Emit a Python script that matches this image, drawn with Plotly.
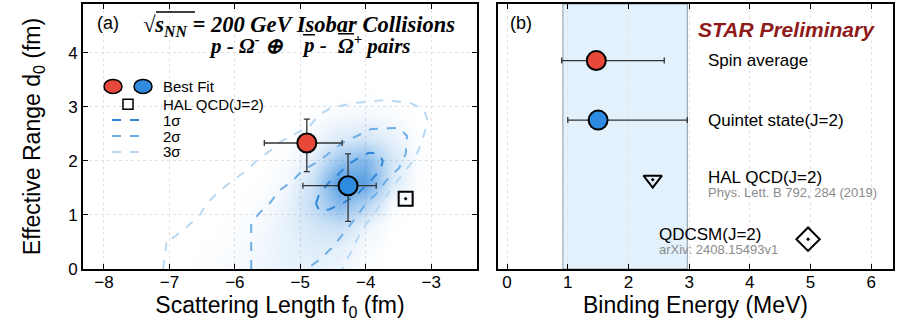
import plotly.graph_objects as go

# ---------------- panel (a): f0 / d0 plane ----------------
fit_f0 = [-4.90, -4.27]
fit_d0 = [2.33, 1.54]
fit_f0_lo = [0.65, 0.69]
fit_f0_hi = [0.54, 0.43]
fit_d0_lo = [0.53, 0.66]
fit_d0_hi = [0.44, 0.59]
fit_colors = ["#e8483a", "#2f8be0"]

hal_f0 = [-3.39]
hal_d0 = [1.30]

# confidence contours
c1_f0 = [-4.76, -4.71, -4.56, -4.41, -4.26, -4.10, -3.95, -3.80, -3.74, -3.77,
         -3.88, -4.00, -4.15, -4.36, -4.56, -4.71, -4.76]
c1_d0 = [1.21, 1.39, 1.60, 1.76, 1.94, 2.06, 2.15, 2.13, 2.00, 1.85,
         1.69, 1.54, 1.36, 1.21, 1.10, 1.08, 1.21]
c2_f0 = [-5.75, -5.75, -5.63, -5.47, -5.32, -5.12, -4.97, -4.71, -4.36, -3.91,
         -3.49, -3.37, -3.39, -3.49, -3.69, -3.84, -4.00, -4.15, -4.30, -4.51,
         -4.71, -4.90]
c2_d0 = [0.00, 0.84, 1.03, 1.21, 1.45, 1.63, 1.82, 2.00, 2.33, 2.59,
         2.61, 2.46, 2.13, 1.87, 1.63, 1.39, 1.21, 0.95, 0.72, 0.40,
         0.17, 0.00]
c3_f0 = [-7.10, -7.07, -7.04, -6.95, -6.74, -6.54, -6.43, -6.23, -6.04, -5.82,
         -5.67, -5.47, -5.28, -5.06, -4.86, -4.71, -4.51, -4.10, -3.72, -3.34,
         -3.11, -3.05, -3.14, -3.24, -3.39, -3.60, -3.84, -4.06, -4.21, -4.36]
c3_d0 = [0.00, 0.20, 0.57, 0.57, 0.77, 0.99, 1.21, 1.45, 1.63, 1.82,
         2.00, 2.18, 2.37, 2.51, 2.64, 2.86, 2.99, 3.08, 3.12, 3.08,
         2.95, 2.73, 2.37, 2.06, 1.82, 1.50, 1.08, 0.72, 0.35, 0.00]

# likelihood density
dens_f0 = [-6.8, -6.4, -6.0, -5.6, -5.2, -4.8, -4.4, -4.0, -3.6, -3.2]
dens_d0 = [0.0, 0.4, 0.8, 1.2, 1.6, 2.0, 2.4, 2.8, 3.2]
dens_z = [
    [0.00, 0.02, 0.04, 0.08, 0.11, 0.12, 0.08, 0.02, 0.00, 0.00],
    [0.00, 0.01, 0.03, 0.07, 0.12, 0.16, 0.14, 0.04, 0.00, 0.00],
    [0.00, 0.00, 0.02, 0.05, 0.12, 0.22, 0.28, 0.10, 0.01, 0.00],
    [0.00, 0.00, 0.00, 0.03, 0.10, 0.30, 0.60, 0.38, 0.04, 0.00],
    [0.00, 0.00, 0.00, 0.01, 0.06, 0.26, 0.85, 0.80, 0.18, 0.01],
    [0.00, 0.00, 0.00, 0.00, 0.03, 0.15, 0.50, 0.62, 0.22, 0.02],
    [0.00, 0.00, 0.00, 0.00, 0.01, 0.06, 0.18, 0.22, 0.12, 0.01],
    [0.00, 0.00, 0.00, 0.00, 0.00, 0.02, 0.05, 0.07, 0.04, 0.00],
    [0.00, 0.00, 0.00, 0.00, 0.00, 0.00, 0.00, 0.01, 0.00, 0.00],
]

# ---------------- panel (b): binding energy ----------------
be_rows = [3.5, 2.5, 1.5, 0.5]
be_labels = ["Spin average", "Quintet state(J=2)", "HAL QCD(J=2)", "QDCSM(J=2)"]
be_refs = ["Phys. Lett. B 792, 284 (2019)", "arXiv: 2408.15493v1"]
be_star = [1.47, 1.50]
be_star_lo = [0.57, 0.50]
be_star_hi = [1.12, 1.47]
be_hal = [2.40]
be_qdcsm = [4.96]
band = [0.92, 2.97]

SANS = "Liberation Sans, Arial, sans-serif"
SERIF = "Liberation Serif, Times New Roman, serif"

# plot area in pixels: x 83..893, y 2..269
L, R, T, B = 83, 17, 2, 56
W, H = 910, 325
PW, PH = W - L - R, H - T - B


def pxx(x):
    return (x - L) / PW


def pxy(y):
    return (H - B - y) / PH


fig = go.Figure()

fig.add_trace(go.Heatmap(
    x=dens_f0, y=dens_d0, z=dens_z, zmin=0, zmax=1, zsmooth="best",
    colorscale=[[0, "rgba(50,138,220,0)"], [1, "rgba(50,138,220,1)"]],
    showscale=False, hoverinfo="skip", xaxis="x", yaxis="y"))

for fx, fy, col in [(c3_f0, c3_d0, "#b9d8f3"), (c2_f0, c2_d0, "#6eaee6"),
                    (c1_f0, c1_d0, "#2f86d6")]:
    fig.add_trace(go.Scatter(
        x=fx, y=fy, mode="lines", line=dict(color=col, width=2, dash="dash"),
        showlegend=False, hoverinfo="skip", xaxis="x", yaxis="y"))

fig.add_trace(go.Scatter(
    x=hal_f0, y=hal_d0, mode="markers",
    marker=dict(symbol="square-open-dot", size=14, color="black",
                line=dict(color="black", width=2)),
    showlegend=False, xaxis="x", yaxis="y"))

fig.add_trace(go.Scatter(
    x=fit_f0, y=fit_d0, mode="markers",
    error_x=dict(type="data", symmetric=False, array=fit_f0_hi,
                 arrayminus=fit_f0_lo, color="#333", thickness=1.3, width=3),
    error_y=dict(type="data", symmetric=False, array=fit_d0_hi,
                 arrayminus=fit_d0_lo, color="#333", thickness=1.3, width=3),
    marker=dict(size=19, color=fit_colors, line=dict(color="black", width=2)),
    showlegend=False, xaxis="x", yaxis="y"))

# panel (b)
fig.add_trace(go.Scatter(
    x=be_star, y=be_rows[:2], mode="markers",
    error_x=dict(type="data", symmetric=False, array=be_star_hi,
                 arrayminus=be_star_lo, color="#333", thickness=1.3, width=3),
    marker=dict(size=19, color=fit_colors, line=dict(color="black", width=2)),
    showlegend=False, xaxis="x2", yaxis="y2"))
fig.add_trace(go.Scatter(
    x=be_hal, y=[be_rows[2]], mode="markers",
    marker=dict(symbol="triangle-down-open-dot", size=16, color="black",
                line=dict(color="black", width=2)),
    showlegend=False, xaxis="x2", yaxis="y2"))
fig.add_trace(go.Scatter(
    x=be_qdcsm, y=[be_rows[3]], mode="markers",
    marker=dict(symbol="diamond-open-dot", size=18, color="black",
                line=dict(color="black", width=2)),
    showlegend=False, xaxis="x2", yaxis="y2"))

shapes = [
    dict(type="rect", xref="x2", yref="y2 domain", x0=band[0], x1=band[1],
         y0=0, y1=1, fillcolor="#e3f1fc", line=dict(color="#8a9aa8", width=1),
         layer="below"),
]

# legend of panel (a)
for cx, col in [(113, fit_colors[0]), (143, fit_colors[1])]:
    shapes.append(dict(type="circle", xref="paper", yref="paper",
                       xsizemode="pixel", ysizemode="pixel",
                       xanchor=pxx(cx), yanchor=pxy(85),
                       x0=-9, x1=9, y0=-7, y1=7, fillcolor=col,
                       line=dict(color="black", width=1.5)))
shapes.append(dict(type="rect", xref="paper", yref="paper",
                   xsizemode="pixel", ysizemode="pixel",
                   xanchor=pxx(128), yanchor=pxy(103),
                   x0=-5, x1=5, y0=-5, y1=5, fillcolor="white",
                   line=dict(color="black", width=1.5)))
for yy, col in [(119, "#2f86d6"), (135, "#6eaee6"), (151, "#b9d8f3")]:
    shapes.append(dict(type="line", xref="paper", yref="paper",
                       x0=pxx(112), x1=pxx(146), y0=pxy(yy), y1=pxy(yy),
                       line=dict(color=col, width=2, dash="dash")))

# bars over the radical and the antiparticle symbols in the header
for x0, x1, yy in [(156, 195, 10), (303, 315, 33), (338, 354, 32)]:
    shapes.append(dict(type="line", xref="paper", yref="paper",
                       x0=pxx(x0), x1=pxx(x1), y0=pxy(yy), y1=pxy(yy),
                       line=dict(color="black", width=1.5)))

ann = []


def text(x, y, s, size, color="black", font=SANS, xanchor="left", xref="paper", yref="paper"):
    ann.append(dict(x=x, y=y, xref=xref, yref=yref, text=s, showarrow=False,
                    xanchor=xanchor, yanchor="middle",
                    font=dict(family=font, size=size, color=color)))


legend_items = [(85, "Best Fit"), (103, "HAL QCD(J=2)"), (119, "1σ"), (135, "2σ"), (151, "3σ")]
for yy, s in legend_items:
    text(pxx(161), pxy(yy), s, 15)

text(pxx(95), pxy(21), "(a)", 18)
text(pxx(508), pxy(21), "(b)", 18)
text(pxx(141), pxy(24),
     "<b><i>√s<sub>NN</sub> = 200 GeV Isobar Collisions</i></b>", 22.5,
     font=SERIF)
text(pxx(207), pxy(43), "<b><i>p - Ω<sup>-</sup> ⊕</i></b>", 21, font=SERIF)
text(pxx(300), pxy(43), "<b><i>p -</i></b>", 21, font=SERIF)
text(pxx(336), pxy(43), "<b><i>Ω<sup>+</sup> pairs</i></b>", 21, font=SERIF)
text(pxx(696), pxy(28), "<b><i>STAR Preliminary</i></b>", 21, color="#8e1a1a")

label_x = [3.28, 3.28, 3.28, 2.47]
label_y = [be_rows[0], be_rows[1], be_rows[2] + 0.03, be_rows[3] + 0.08]
for lx, ly, s in zip(label_x, label_y, be_labels):
    text(lx, ly, s, 17, xref="x2", yref="y2")
text(3.28, be_rows[2] - 0.22, be_refs[0], 13, color="#8c8c8c", xref="x2", yref="y2")
text(2.47, be_rows[3] - 0.18, be_refs[1], 13, color="#8c8c8c", xref="x2", yref="y2")

axis_common = dict(showline=True, linewidth=2, linecolor="black", mirror="ticks",
                   ticks="inside", ticklen=5, tickwidth=1, tickcolor="black",
                   showgrid=True, gridcolor="#e2e2e2", griddash="dot",
                   zeroline=False, tickfont=dict(family=SANS, size=17, color="black"))
title_font = dict(family=SANS, size=23, color="black")

fig.update_layout(
    width=W, height=H, margin=dict(l=L, r=R, t=T, b=B),
    paper_bgcolor="white", plot_bgcolor="white", showlegend=False,
    xaxis=dict(domain=[0, pxx(477)], range=[-8.32, -2.30], tickvals=[-8, -7, -6, -5, -4, -3],
               ticklabelstandoff=-3,
               title=dict(text="Scattering Length f<sub>0</sub> (fm)", standoff=3,
                          font=title_font), **axis_common),
    yaxis=dict(domain=[0, 1], range=[0, 4.9], tickvals=[0, 1, 2, 3, 4],
               title=dict(text="Effective Range d<sub>0</sub> (fm)", standoff=21,
                          font=title_font), **axis_common),
    xaxis2=dict(domain=[pxx(498), 1], range=[-0.15, 6.36], tickvals=[0, 1, 2, 3, 4, 5, 6],
                anchor="y2", ticklabelstandoff=-3,
                title=dict(text="Binding Energy (MeV)", standoff=3, font=title_font),
                **axis_common),
    yaxis2=dict(domain=[0, 1], range=[0, 4.45], anchor="x2", showline=True, linewidth=2,
                linecolor="black", mirror=True, ticks="", showticklabels=False,
                showgrid=False, zeroline=False),
    shapes=shapes, annotations=ann,
)

fig.write_html("out.html")
